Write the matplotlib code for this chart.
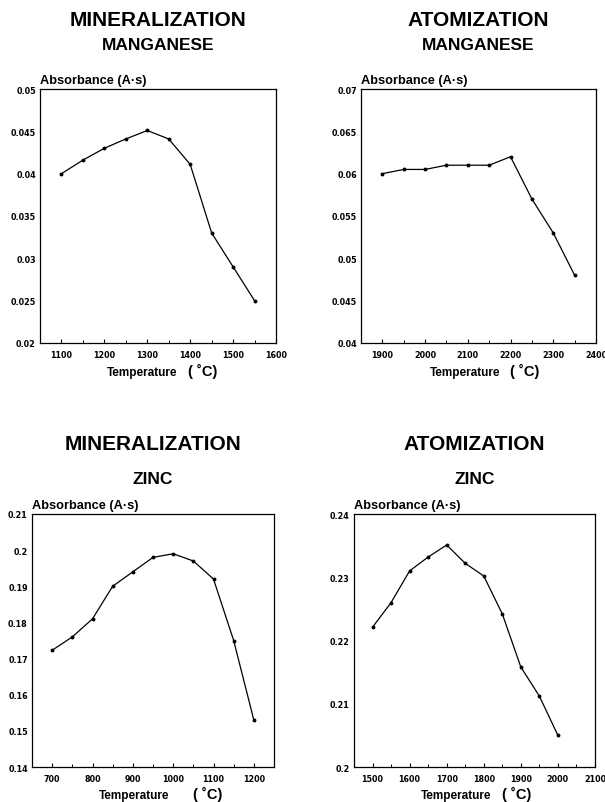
import matplotlib
matplotlib.use("Agg")
import matplotlib.pyplot as plt
from matplotlib.ticker import MultipleLocator, FuncFormatter

plt.rcParams['font.family'] = ['Liberation Sans', 'DejaVu Sans']

# ---- data ----
mn_min_temp = [1100, 1150, 1200, 1250, 1300, 1350, 1400, 1450, 1500, 1550]
mn_min_abs = [0.0400, 0.0416, 0.0430, 0.0441, 0.0451, 0.0441, 0.0411, 0.0330, 0.0290, 0.0250]

mn_atom_temp = [1900, 1950, 2000, 2050, 2100, 2150, 2200, 2250, 2300, 2350]
mn_atom_abs = [0.0600, 0.0605, 0.0605, 0.0610, 0.0610, 0.0610, 0.0620, 0.0570, 0.0530, 0.0480]

zn_min_temp = [700, 750, 800, 850, 900, 950, 1000, 1050, 1100, 1150, 1200]
zn_min_abs = [0.1723, 0.1760, 0.1810, 0.1900, 0.1940, 0.1980, 0.1990, 0.1970, 0.1920, 0.1750, 0.1530]

zn_atom_temp = [1500, 1550, 1600, 1650, 1700, 1750, 1800, 1850, 1900, 1950, 2000]
zn_atom_abs = [0.2221, 0.2260, 0.2310, 0.2332, 0.2351, 0.2322, 0.2302, 0.2242, 0.2158, 0.2112, 0.2050]

titles = ["MINERALIZATION", "ATOMIZATION", "MINERALIZATION", "ATOMIZATION"]
subtitles = ["MANGANESE", "MANGANESE", "ZINC", "ZINC"]
ylabel = "Absorbance (A\u00b7s)"
xlabel_word = "Temperature"
xlabel_unit = "( \u02daC)"

W, H = 605, 803
fig = plt.figure(figsize=(W / 100, H / 100), dpi=100)

panels = [
    dict(box=(40, 90, 276, 344), x=mn_min_temp, y=mn_min_abs, xlim=(1050, 1600),
         xt=[1100, 1200, 1300, 1400, 1500, 1600], ylim=(0.02, 0.05),
         yt=[0.02, 0.025, 0.03, 0.035, 0.04, 0.045, 0.05],
         lab=(142, 203, 376), title_y=(20, 46)),
    dict(box=(361, 90, 596, 344), x=mn_atom_temp, y=mn_atom_abs, xlim=(1850, 2400),
         xt=[1900, 2000, 2100, 2200, 2300, 2400], ylim=(0.04, 0.07),
         yt=[0.04, 0.045, 0.05, 0.055, 0.06, 0.065, 0.07],
         lab=(465, 525, 376), title_y=(20, 46)),
    dict(box=(32, 515, 274, 768), x=zn_min_temp, y=zn_min_abs, xlim=(650, 1250),
         xt=[700, 800, 900, 1000, 1100, 1200], ylim=(0.14, 0.21),
         yt=[0.14, 0.15, 0.16, 0.17, 0.18, 0.19, 0.20, 0.21],
         lab=(134, 208, 799), title_y=(445, 480)),
    dict(box=(354, 515, 595, 768), x=zn_atom_temp, y=zn_atom_abs, xlim=(1450, 2100),
         xt=[1500, 1600, 1700, 1800, 1900, 2000, 2100], ylim=(0.20, 0.24),
         yt=[0.20, 0.21, 0.22, 0.23, 0.24],
         lab=(456, 517, 799), title_y=(445, 480)),
]

def yfmt(v, pos):
    return ("%.3f" % v).rstrip('0').rstrip('.')

for i, p in enumerate(panels):
    l, t, r, b = p['box']
    ax = fig.add_axes([l / W, 1 - b / H, (r - l) / W, (b - t) / H])
    ax.plot(p['x'], p['y'], color='black', lw=0.9, marker='o', ms=1.8)
    ax.set_xlim(*p['xlim'])
    ax.set_ylim(*p['ylim'])
    ax.set_xticks(p['xt'])
    ax.set_yticks(p['yt'])
    ax.xaxis.set_minor_locator(MultipleLocator(50))
    ax.yaxis.set_major_formatter(FuncFormatter(yfmt))
    ax.tick_params(axis='x', which='major', direction='in', length=3, width=0.8, pad=5)
    ax.tick_params(axis='y', which='major', direction='in', length=0, pad=3)
    ax.tick_params(axis='x', which='minor', direction='in', length=2.5, width=0.7)
    for lab in ax.get_xticklabels() + ax.get_yticklabels():
        lab.set_fontweight('bold')
        lab.set_fontfamily('DejaVu Sans')
        lab.set_fontsize(5.8)
    for s in ax.spines.values():
        s.set_linewidth(0.9)
    ax.text(0.0, 1.012, ylabel, transform=ax.transAxes, ha='left', va='bottom',
            fontsize=9.2, fontweight='bold')
    wx, ux, ly = p['lab']
    fig.text(wx / W, 1 - ly / H, xlabel_word, ha='center', va='baseline',
             fontsize=8.5, fontweight='bold')
    fig.text(ux / W, 1 - ly / H, xlabel_unit, ha='center', va='baseline',
             fontsize=10.5, fontweight='bold')
    cx = (l + r) / 2
    ty, sy = p['title_y']
    fig.text(cx / W, 1 - ty / H, titles[i], ha='center', va='center',
             fontsize=15, fontweight='bold')
    fig.text(cx / W, 1 - sy / H, subtitles[i], ha='center', va='center',
             fontsize=12.5, fontweight='bold')

fig.savefig("out.png", dpi=100, facecolor='white')
